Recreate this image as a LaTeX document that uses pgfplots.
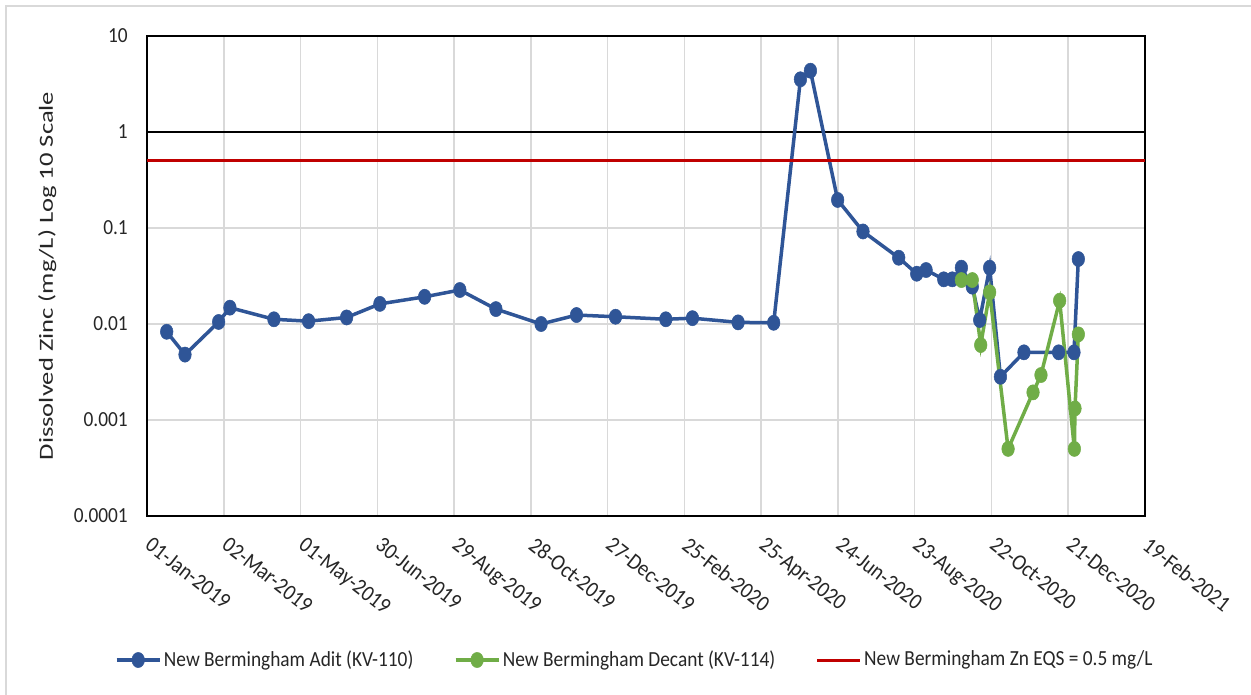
\documentclass[border=0pt]{standalone}
\usepackage{pgfplots}
\pgfplotsset{compat=1.18}
\usepackage{fontspec}
\setmainfont{Carlito}[FakeStretch=0.9]
\newfontfamily\ylabfont{Carlito}[FakeStretch=1.33]
\definecolor{zblue}{RGB}{47,85,151}
\definecolor{zgreen}{RGB}{112,173,71}
\definecolor{zred}{RGB}{192,0,0}
\definecolor{zgrid}{RGB}{217,217,217}
\pgfdeclareplotmark{oval}{%
  \pgfpathellipse{\pgfpointorigin}{\pgfqpoint{6.3pt}{0pt}}{\pgfqpoint{0pt}{7.6pt}}%
  \pgfusepathqfillstroke}
\begin{document}
\fontsize{21.5pt}{25pt}\selectfont
\begin{tikzpicture}
\path[use as bounding box, fill=white] (0,0) rectangle (1251pt,694pt);
\draw[zgrid, line width=1.5pt] (6pt,-20pt) rectangle (1270pt,688pt);
\begin{axis}[
  at={(147pt,178pt)}, anchor=south west,
  scale only axis, width=998pt, height=480pt,
  xmin=0, xmax=780, ymode=log, ymin=1e-4, ymax=10,
  xtick={0,60,...,780},
  xticklabels={01-Jan-2019,02-Mar-2019,01-May-2019,30-Jun-2019,29-Aug-2019,28-Oct-2019,27-Dec-2019,25-Feb-2020,25-Apr-2020,24-Jun-2020,23-Aug-2020,22-Oct-2020,21-Dec-2020,19-Feb-2021},
  ytick={1e-4,1e-3,1e-2,1e-1,1,10},
  yticklabels={0.0001,0.001,0.01,0.1,1,10},
  minor ytick={}, yminorgrids=false,
  major tick length=0pt, minor tick length=0pt,
  xmajorgrids, ymajorgrids,
  grid style={zgrid, line width=1.5pt},
  axis line style={black, line width=2pt},
  extra y ticks={1}, extra y tick labels={},
  extra y tick style={grid style={black, line width=1.5pt}, major tick length=0pt},
  tick label style={text=black!85},
  yticklabel style={anchor=east, inner sep=0pt, xshift=-19pt},
  xticklabel style={font=\fontsize{22.5pt}{26pt}\selectfont, xshift=6pt, yshift=-20pt, rotate=-38, anchor=north west, inner sep=0pt},
  ylabel={\ylabfont\fontsize{20pt}{24pt}\selectfont Dissolved Zinc (mg/L) Log 10 Scale},
  ylabel style={at={(axis description cs:-0.1,0.5)}, anchor=center, rotate=0, text=black!85},
  legend columns=3,
  legend style={at={(axis description cs:-0.0321,-0.3)}, anchor=west, draw=none, fill=none,
    inner sep=0pt, outer sep=0pt, nodes={inner sep=2.5pt, text=black!85},
    /tikz/every even column/.append style={column sep=38pt}},
  legend cell align=left,
  legend image code/.code={\draw[mark repeat=2,mark phase=2] plot coordinates {(0pt,0pt)(21.5pt,0pt)(43pt,0pt)};},
]
\addplot[zblue, line width=3.5pt, mark=oval, mark options={solid, fill=zblue, draw=zblue, line width=0.5pt}] coordinates {
(15.4,0.0083) (29.7,0.0048) (56,0.0105) (64.8,0.0148) (99.2,0.0112) (126.3,0.0107)
(156,0.0117) (182,0.0162) (217,0.0192) (244.5,0.0226) (272.7,0.0143) (308,0.0100)
(335.7,0.0124) (366.2,0.0119) (405.5,0.0112) (426.3,0.0115) (462,0.0104) (489.8,0.0103)
(510.7,3.54) (518.5,4.35) (539.8,0.196) (559.6,0.092) (587.5,0.049) (601.6,0.0334)
(608.9,0.0365) (622.7,0.0292) (629.4,0.0292) (636.5,0.0386) (645,0.0245) (650.8,0.011)
(658.6,0.0386) (667,0.00282) (685.4,0.00507) (712.5,0.00507) (724.5,0.00507) (727.9,0.0475)
};
\addlegendentry{New Bermingham Adit (KV-110)}
\addplot[zgreen, line width=3.5pt, mark=oval, mark options={solid, fill=zgreen, draw=zgreen, line width=0.5pt}] coordinates {
(636.5,0.0287) (645,0.0287) (651.6,0.00604) (658.6,0.0214) (673,0.0005) (692.5,0.00194)
(698.7,0.00294) (713.3,0.0175) (724.8,0.0005) (725.3,0.00132) (727.9,0.0078)
};
\addlegendentry{New Bermingham Decant (KV-114)}
\addplot[zred, line width=3pt] coordinates {(0,0.5) (780,0.5)};
\addlegendentry{New Bermingham Zn EQS = 0.5 mg/L}
\end{axis}
\end{tikzpicture}
\end{document}
